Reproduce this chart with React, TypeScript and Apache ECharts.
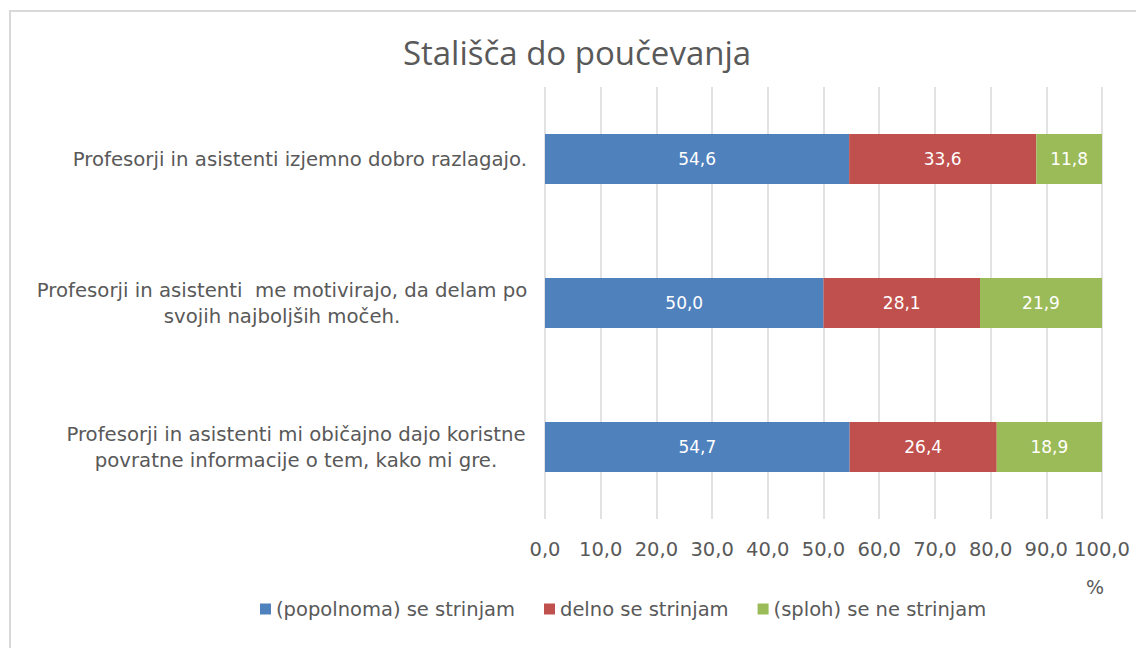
import React, { useEffect, useRef } from "react";
import * as echarts from "echarts";

const categories = [
  "Profesorji in asistenti izjemno dobro razlagajo.",
  "Profesorji in asistenti  me motivirajo, da delam po\nsvojih najboljših močeh.",
  "Profesorji in asistenti mi običajno dajo koristne\npovratne informacije o tem, kako mi gre.",
];
const seriesNames = ["(popolnoma) se strinjam", "delno se strinjam", "(sploh) se ne strinjam"];
const fullyAgree = [54.6, 50.0, 54.7];
const partlyAgree = [33.6, 28.1, 26.4];
const disagree = [11.8, 21.9, 18.9];
const colors = ["#4f81bd", "#c0504d", "#9bbb59"];
const FONT = "'DejaVu Sans', sans-serif";
const TFONT = "'Open Sans', sans-serif";
const GREY = "#595959";

export default function App() {
  const ref = useRef<HTMLDivElement>(null);
  useEffect(() => {
    if (!ref.current) return;
    const chart = echarts.init(ref.current, null, { renderer: "svg" });
    const values = [fullyAgree, partlyAgree, disagree];
    const fmt = (v: number) => v.toFixed(1).replace(".", ",");
    chart.setOption({
      animation: false,
      title: {
        text: "Stališča do poučevanja",
        left: 572,
        textAlign: "center",
        top: 31,
        textStyle: { fontFamily: TFONT, fontSize: 33, fontWeight: "normal", color: GREY },
      },
      legend: {
        bottom: 24,
        left: 255,
        itemWidth: 11,
        itemHeight: 11,
        itemGap: 29,
        icon: "rect",
        textStyle: { fontFamily: FONT, fontSize: 19.5, color: GREY },
        data: seriesNames,
      },
      grid: { left: 545, right: 34, top: 87, bottom: 129, containLabel: false },
      xAxis: {
        type: "value",
        min: 0,
        max: 100,
        interval: 10,
        axisLine: { show: false },
        axisTick: { show: false },
        splitLine: { show: true, lineStyle: { color: "#d9d9d9", width: 1.5 } },
        axisLabel: {
          formatter: (v: number) => fmt(v),
          fontFamily: FONT,
          fontSize: 19.5,
          color: GREY,
          margin: 20,
        },
      },
      yAxis: {
        type: "category",
        inverse: true,
        data: categories,
        axisLine: { show: false },
        axisTick: { show: false },
        axisLabel: {
          margin: 18,
          formatter: (v: string, i: number) => {
            if (i === 0) return "{a|" + v + "}";
            if (i === 1) return "{b|" + v + "}";
            return "{c|" + v + "}";
          },
          rich: {
            a: { fontFamily: FONT, fontSize: 19.7, color: GREY, lineHeight: 26 },
            b: { fontFamily: FONT, fontSize: 19.7, color: GREY, lineHeight: 26, width: 490, align: "center" },
            c: { fontFamily: FONT, fontSize: 19.7, color: GREY, lineHeight: 26, width: 462, align: "center" },
          },
        },
      },
      series: seriesNames.map((name, k) => ({
        name,
        type: "bar",
        stack: "total",
        barWidth: 50,
        data: values[k],
        itemStyle: { color: colors[k] },
        label: {
          show: true,
          position: "inside",
          color: "#ffffff",
          fontFamily: FONT,
          fontSize: 17,
          formatter: (p: any) => fmt(p.value),
        },
      })),
      graphic: [
        {
          type: "rect",
          shape: { x: 10, y: 11, width: 1300, height: 800 },
          style: { fill: "none", stroke: "#d9d9d9", lineWidth: 2 },
          silent: true,
        },
        {
          type: "text",
          left: 1086,
          top: 577,
          style: { text: "%", fontFamily: FONT, fontSize: 19, fill: GREY },
        },
      ],
    });
    return () => chart.dispose();
  }, []);
  return (
    <div
      ref={ref}
      style={{ position: "fixed", left: 0, top: 0, width: 1136, height: 648, background: "#fff" }}
    />
  );
}
